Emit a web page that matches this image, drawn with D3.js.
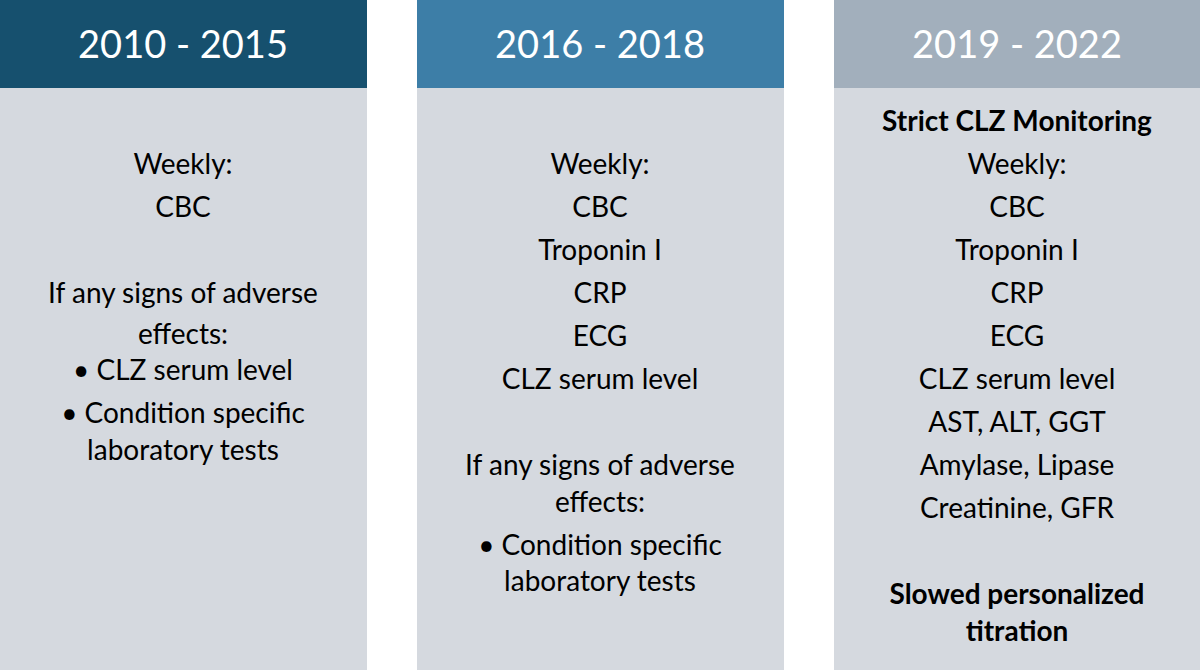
<!DOCTYPE html>
<html><head><meta charset="utf-8">
<script src="https://cdn.jsdelivr.net/npm/d3@7"></script>
<style>body{margin:0;background:#fff}</style></head>
<body><svg id="c" width="1200" height="670"></svg>
<script>
const periods = ["2010 - 2015", "2016 - 2018", "2019 - 2022"];
const headerColors = ["#16506e", "#3d7ea7", "#a2afbc"];
// [text, line slot, bold]
const col1 = [["Weekly:",1,0],["CBC",2,0],["If any signs of adverse",4,0],["effects:",4.95,0],["• CLZ serum level",5.8,0],["• Condition specific",6.8,0],["laboratory tests",7.65,0]];
const col2 = [["Weekly:",1,0],["CBC",2,0],["Troponin I",3,0],["CRP",4,0],["ECG",5,0],["CLZ serum level",6,0],["If any signs of adverse",8,0],["effects:",8.85,0],["• Condition specific",9.85,0],["laboratory tests",10.7,0]];
const col3 = [["Strict CLZ Monitoring",0,1],["Weekly:",1,0],["CBC",2,0],["Troponin I",3,0],["CRP",4,0],["ECG",5,0],["CLZ serum level",6,0],["AST, ALT, GGT",7,0],["Amylase, Lipase",8,0],["Creatinine, GFR",9,0],["Slowed personalized",11,1],["titration",11.85,1]];
const cols = [col1, col2, col3];

const svg = d3.select("#c");
const x = d3.scaleLinear().domain([0, 1]).range([0, 417]);
const y = d3.scaleLinear().domain([0, 1]).range([121, 164]);
const g = svg.selectAll("g.col").data(periods).join("g").attr("transform", (d,i) => `translate(${x(i)},0)`);
g.append("rect").attr("width", 367).attr("height", 670).attr("fill", "#d5d9df");
g.append("rect").attr("width", 367).attr("height", 88).attr("fill", (d,i) => headerColors[i]);
g.append("text").attr("x", 183).attr("y", 58).attr("text-anchor", "middle")
  .attr("font-family", "Lato, sans-serif").attr("font-size", 38).attr("fill", "#fff").text(d => d);
g.each(function(d, i) {
  d3.select(this).selectAll("text.l").data(cols[i]).join("text").attr("class", "l")
    .attr("x", 183).attr("y", l => y(l[1]) + 10).attr("text-anchor", "middle")
    .attr("font-family", "Lato, sans-serif").attr("font-size", 28)
    .attr("font-weight", l => l[2] ? "bold" : "normal").attr("fill", "#000").text(l => l[0]);
});
</script></body></html>
